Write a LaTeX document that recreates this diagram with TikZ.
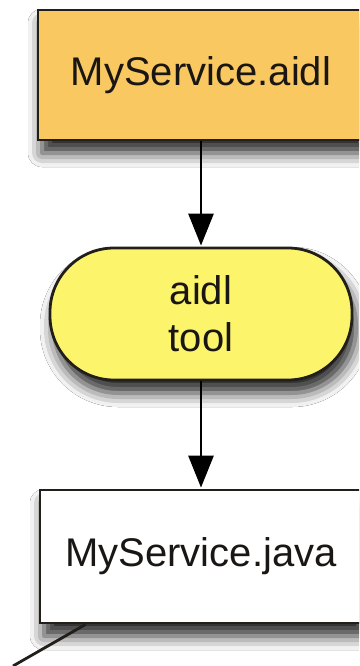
\documentclass[tikz,border=0pt]{standalone}
\usepackage{fontspec}
\setmainfont{Liberation Sans}
\usetikzlibrary{arrows.meta,shadows.blur,calc}
\definecolor{aidlorange}{RGB}{250,200,96}
\definecolor{toolyellow}{RGB}{252,245,108}
\definecolor{edgegray}{RGB}{34,30,26}
\definecolor{inkgray}{RGB}{25,22,20}
\tikzset{
  softshadow/.style={blur shadow={shadow xshift=4pt, shadow yshift=-13pt,
      shadow blur radius=14pt, shadow opacity=85}},
  filebox/.style={draw=edgegray, line width=2.8pt, rectangle, inner sep=0pt,
      align=center, text=inkgray, font=\fontsize{40}{48}\selectfont, softshadow},
  toolbox/.style={draw=edgegray, line width=2.8pt, rounded corners=64pt,
      fill=toolyellow, inner sep=0pt, align=center, text=inkgray,
      font=\fontsize{40}{47}\selectfont, softshadow},
  flow/.style={draw=black, line width=2.8pt,
      -{Triangle[width=25pt,length=32pt]}, shorten >=1pt},
}
\begin{document}
\begin{tikzpicture}[x=1pt,y=-1pt]
  \useasboundingbox (0,0) rectangle (359,666);
  \fill[white] (0,0) rectangle (359,666);
  \clip (0,0) rectangle (359,666);

  \node[filebox, fill=aidlorange, minimum width=326pt, minimum height=130pt]
    (aidl) at (201,75) {MyService.aidl};
  \node[toolbox, minimum width=302pt, minimum height=132pt]
    (tool) at (201,314) {aidl\\tool};
  \node[filebox, fill=white, minimum width=322pt, minimum height=133pt]
    (java) at (201,556.5) {MyService.java};

  \coordinate (tail) at (13,666);

  \draw[flow] (aidl.south) -- (tool.north);
  \draw[flow] (tool.south) -- (java.north);
  \draw[edgegray, line width=2.8pt] ([xshift=47pt]java.south west) -- (tail);
\end{tikzpicture}
\end{document}
